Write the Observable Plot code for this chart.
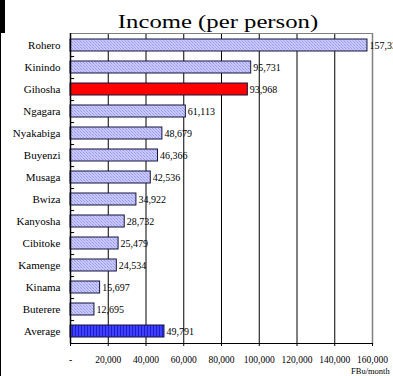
<!DOCTYPE html>
<html><head><meta charset="utf-8">
<script src="https://cdn.jsdelivr.net/npm/d3@7"></script>
<script src="https://cdn.jsdelivr.net/npm/@observablehq/plot@0.6"></script>
<style>
body{margin:0;background:#fff;overflow:hidden;width:393px;height:376px;position:relative;font-family:"Liberation Serif","Times New Roman",serif;}
#chart{position:absolute;left:0;top:0;}
#chart svg, #chart svg text{font-family:"Liberation Serif","Times New Roman",serif !important;}
#title{position:absolute;top:12px;left:217.5px;font-size:19px;line-height:19px;white-space:nowrap;transform:translateX(-50%) scaleX(1.3);color:#000;}
#unit{position:absolute;top:367px;left:351px;font-size:8.5px;line-height:9px;white-space:nowrap;color:#000;}
#blk{position:absolute;left:0;top:0;width:5px;height:33px;background:#000;}
#edge{position:absolute;left:0;top:33px;width:1px;height:343px;background:#000;}
</style></head>
<body>
<div id="chart"></div>
<div id="title">Income (per person)</div>
<div id="unit">FBu/month</div>
<div id="blk"></div><div id="edge"></div>
<script>
const categories = ["Rohero","Kinindo","Gihosha","Ngagara","Nyakabiga","Buyenzi","Musaga","Bwiza","Kanyosha","Cibitoke","Kamenge","Kinama","Buterere","Average"];
const values = [157330,95731,93968,61113,48679,46366,42536,34922,28732,25479,24534,15697,12695,49791];
const highlightName = "Gihosha";
const averageName = "Average";
const xTicks = [0,20000,40000,60000,80000,100000,120000,140000,160000];

const fmt = d3.format(",");
const data = categories.map((c,i)=>({name:c, value:values[i],
  fill: c===highlightName ? "#ff0000" : c===averageName ? "url(#avgPat)" : "url(#barPat)"}));
const serif = "'Liberation Serif','Times New Roman',serif";

const plot = Plot.plot({
  width:393, height:376,
  marginTop:33, marginBottom:33, marginLeft:70, marginRight:21,
  style:{fontFamily:serif, background:"transparent", color:"#000"},
  x:{domain:[0,160000], label:null},
  y:{domain:categories, paddingInner:0.45, paddingOuter:0.225, label:null},
  color:{type:"identity"},
  marks:[
    Plot.gridX(xTicks.slice(1,-1), {stroke:"#000", strokeOpacity:1}),
    Plot.frame({stroke:"#808080"}),
    Plot.ruleX([160000], {stroke:"#808080", strokeWidth:1.5}),
    Plot.barX(data, {x:"value", y:"name", fill:"fill", stroke:"#14143c", strokeWidth:1}),
    Plot.text(data, {x:"value", y:"name", text:d=>fmt(d.value), textAnchor:"start", dx:2, fontSize:10, fontFamily:serif}),
    Plot.ruleY(categories.slice(0,-1), {y:d=>d, x1:0, x2:2200, dy:11.07, stroke:"#000"}),
    Plot.ruleX([0], {stroke:"#000", strokeWidth:1.5}),
    Plot.frame({anchor:"bottom", stroke:"#000", strokeWidth:1.2}),
    Plot.axisY({tickSize:0, tickPadding:10, fontSize:11, fontFamily:serif}),
    Plot.axisX(xTicks, {tickSize:3, tickPadding:10, fontSize:9.5, fontFamily:serif, tickFormat:d=>d===0?"-":fmt(d)})
  ]
});

const defs = d3.select(plot).insert("defs", ":first-child");
const p1 = defs.append("pattern").attr("id","barPat").attr("patternUnits","userSpaceOnUse").attr("width",3).attr("height",3);
p1.append("rect").attr("width",3).attr("height",3).attr("fill","#c8c8fc");
p1.append("rect").attr("x",0).attr("y",0).attr("width",1).attr("height",1).attr("fill","#9a9aea");
p1.append("rect").attr("x",1).attr("y",1).attr("width",1).attr("height",1).attr("fill","#b0b0f3");
p1.append("rect").attr("x",2).attr("y",2).attr("width",1).attr("height",1).attr("fill","#9a9aea");
const p2 = defs.append("pattern").attr("id","avgPat").attr("patternUnits","userSpaceOnUse").attr("width",3).attr("height",3);
p2.append("rect").attr("width",3).attr("height",3).attr("fill","#4040ff");
p2.append("rect").attr("x",0).attr("width",1).attr("height",3).attr("fill","#1c1cc8");

document.getElementById("chart").appendChild(plot);
</script>
</body></html>
